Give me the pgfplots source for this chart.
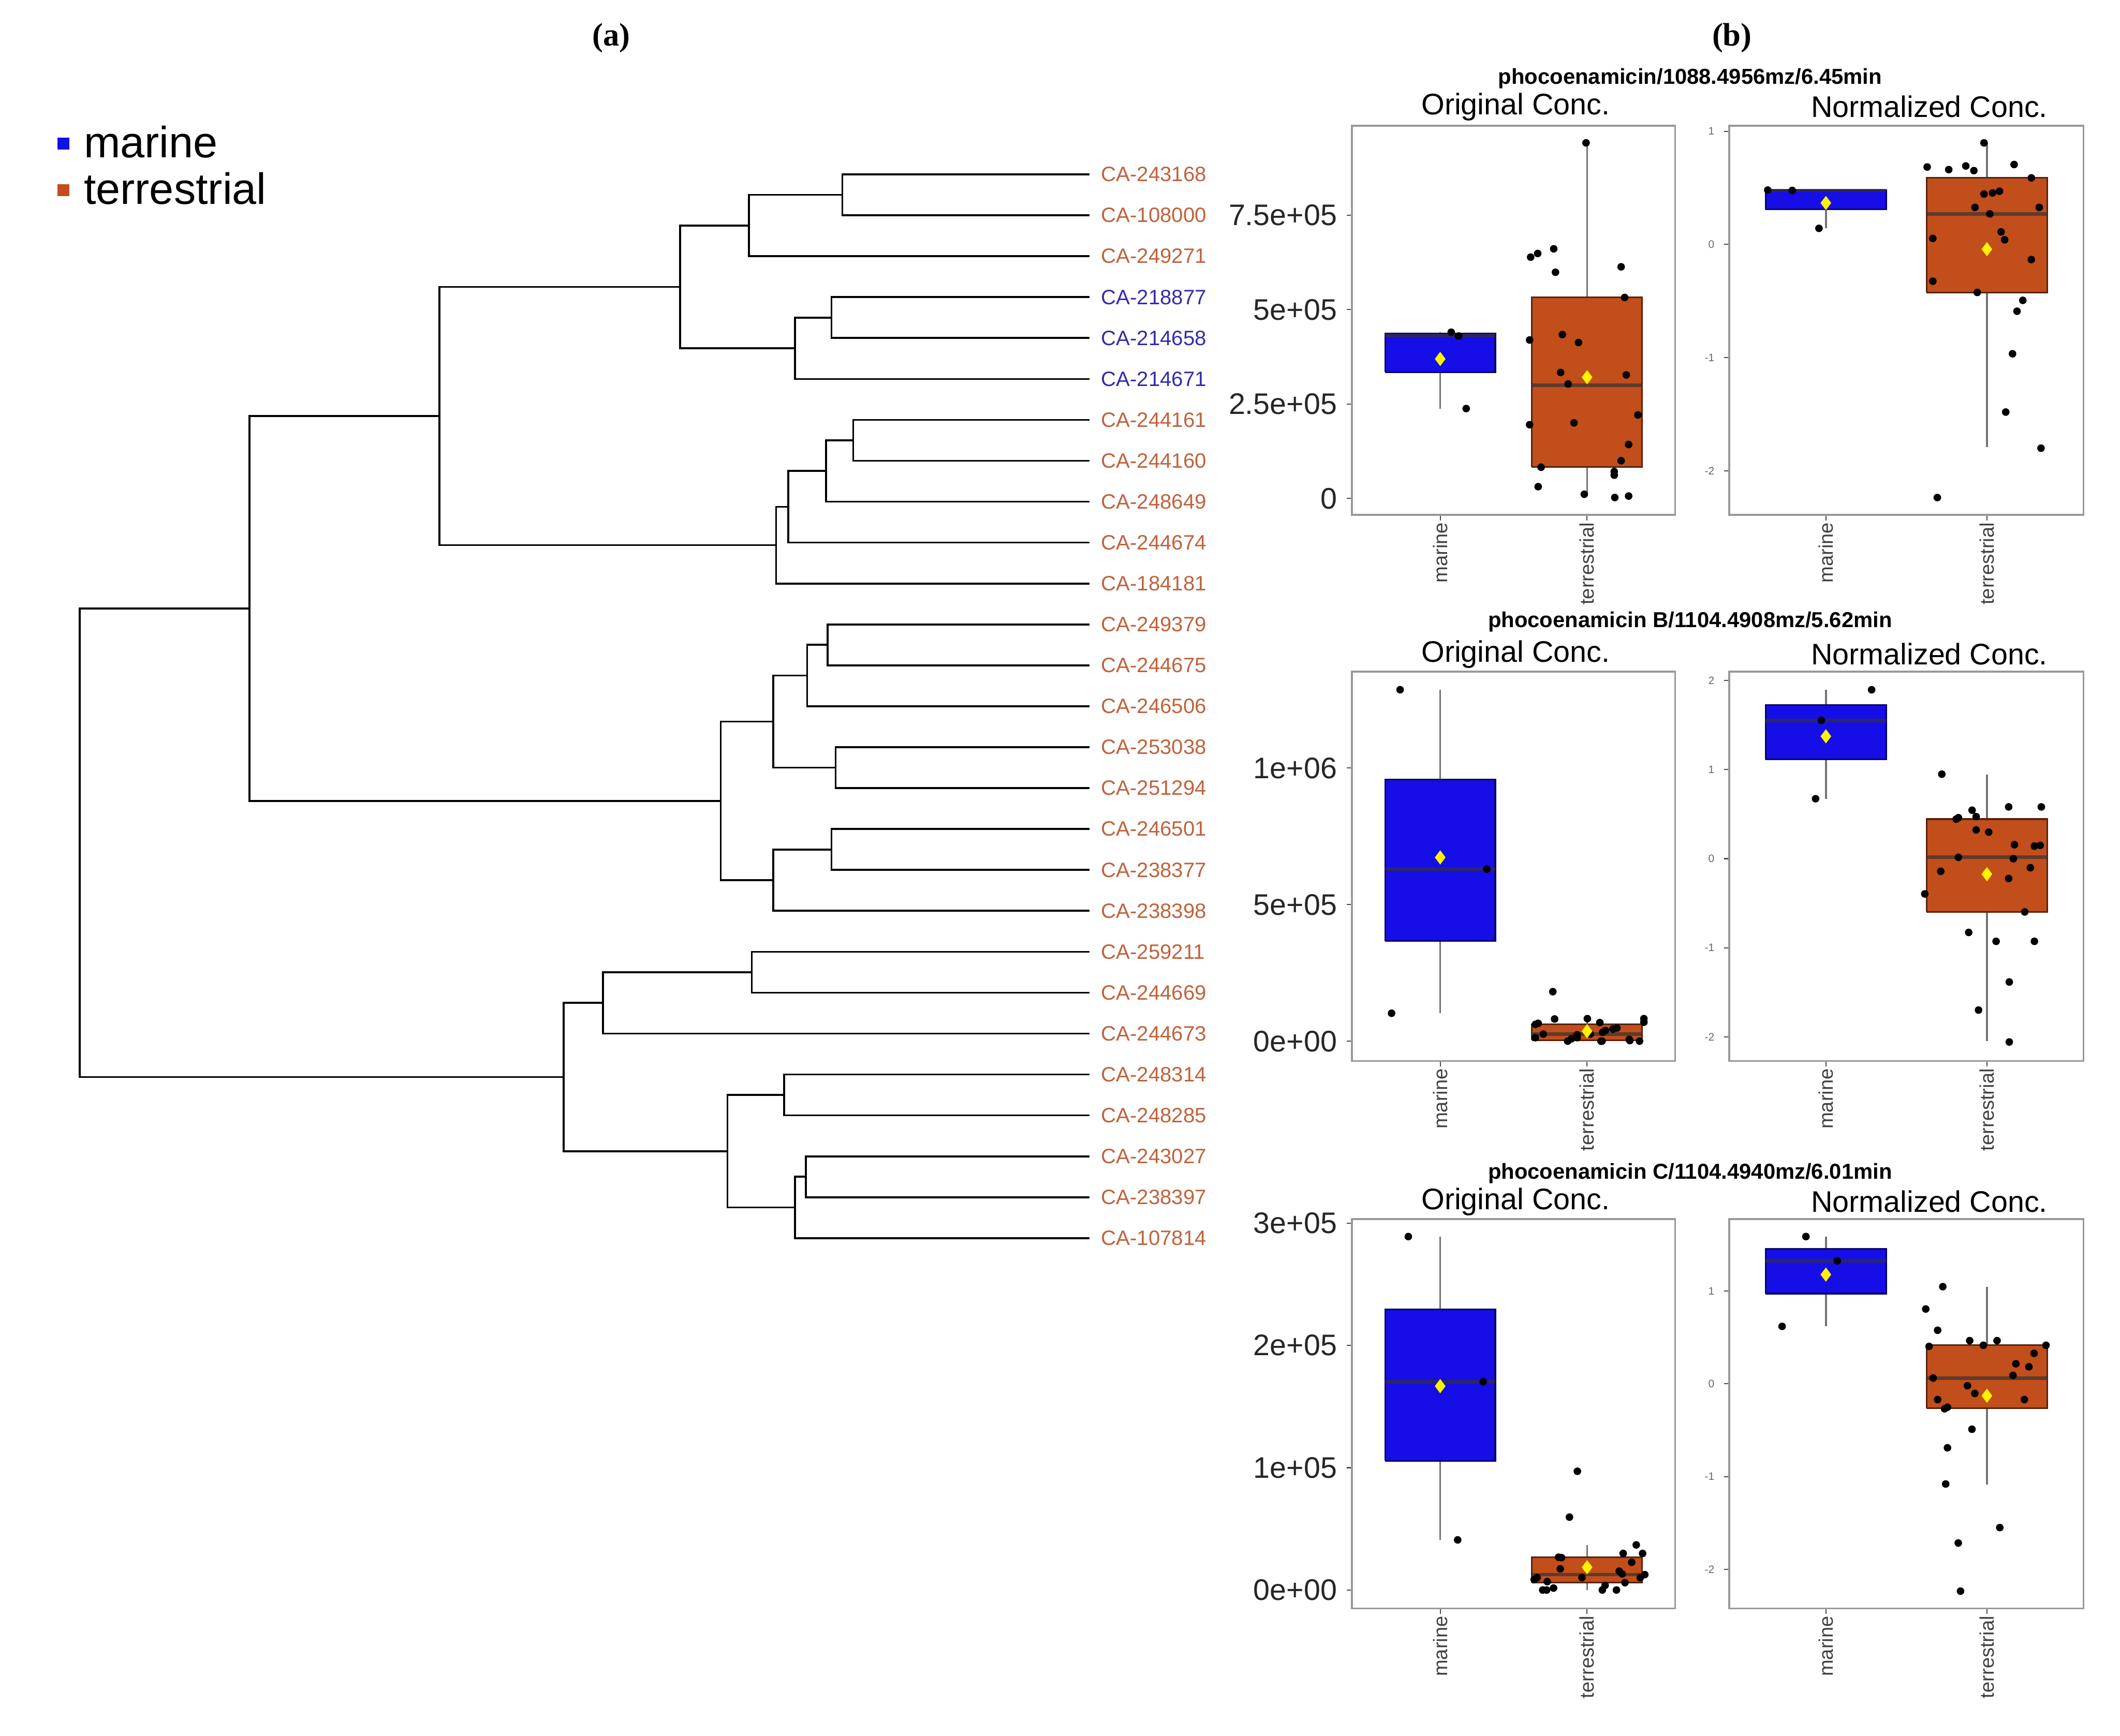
\documentclass[border=0pt]{standalone}
\usepackage{fontspec}
\setmainfont{Liberation Sans}
\newfontfamily\serifb{Liberation Serif}
\usepackage{pgfplots}
\pgfplotsset{compat=1.18}

\definecolor{mblue}{RGB}{22,14,230}
\definecolor{torange}{RGB}{194,78,28}
\definecolor{tlab}{RGB}{193,98,60}
\definecolor{mlab}{RGB}{50,45,170}
\newcommand{\fs}[1]{\fontsize{#1}{#1}\selectfont}

\pgfplotsset{
 panel/.style={scale only axis, height=144pt, xmin=0.4, xmax=2.6,
   xtick={1,2}, xticklabels={marine,terrestrial},
   x tick label style={rotate=90, anchor=east, font=\fs{7.3}, text=black!75, inner sep=0.6pt},
   tick align=outside, xtick pos=left, ytick pos=left,
   major tick length=2pt, tick style={black!70, line width=0.4pt},
   axis line style={black!40, line width=0.7pt},
   /pgf/number format/assume math mode=true,
 },
 orig/.style={panel, width=119.5pt, y tick label style={font=\fs{11}, text=black!85}},
 norm/.style={panel, width=131pt, y tick label style={font=\fs{4}, text=black!60}},
 pts/.style={only marks, mark=*, mark size=1.2pt, black},
 meanm/.style={only marks, mark=diamond*, mark size=2.3pt, color=yellow},
 whisk/.style={black!55, line width=0.7pt, solid, no markers},
 medl/.style={black!80, draw opacity=0.7, line width=1.3pt, solid, no markers},
 dend/.style={black, line width=0.7pt, solid, no markers},
}
\newcommand{\br}[5]{\addplot[dend] coordinates {(#1,#2) (#3,#2) (#3,#4) (#5,#4)};}
% box: left right center lw q1 med q3 uw fill
\newcommand{\bx}[9]{%
 \addplot[whisk] coordinates {(#3,#4) (#3,#5)};
 \addplot[whisk] coordinates {(#3,#7) (#3,#8)};
 \addplot[fill=#9, draw=#9!45!black, line width=0.6pt, solid, no markers]
   coordinates {(#1,#5) (#2,#5) (#2,#7) (#1,#7) (#1,#5)};
 \addplot[medl] coordinates {(#1,#6) (#2,#6)};
}
\newcommand{\mbx}[5]{\bx{0.625}{1.375}{1}{#1}{#2}{#3}{#4}{#5}{mblue}}
\newcommand{\tbx}[5]{\bx{1.625}{2.375}{2}{#1}{#2}{#3}{#4}{#5}{torange}}

\begin{document}
\begin{tikzpicture}
\path (0pt,0pt) rectangle (784pt,642pt);
% ---------------- dendrogram ----------------
\begin{axis}[at={(0pt,0pt)}, anchor=south west, scale only axis, width=784pt, height=642pt,
  xmin=0, xmax=1568, ymin=-3.262, ymax=39.157, y dir=reverse, hide axis, clip=false,
  legend style={at={(0.0268,0.931)}, anchor=north west, draw=none, fill=none,
     font=\fs{16.2}, row sep=0pt, inner sep=0pt, /tikz/column sep=3.4pt}, legend cell align=left]
\addlegendimage{legend image code/.code={\fill[mblue] (0pt,-2pt) rectangle (4pt,2pt);}}
\addlegendentry{marine}
\addlegendimage{legend image code/.code={\fill[torange] (0pt,-2pt) rectangle (4pt,2pt);}}
\addlegendentry{terrestrial}
\br{806}{1}{623}{2}{806}
\br{623}{1.5}{554}{3}{806}
\br{806}{4}{615}{5}{806}
\br{615}{4.5}{588}{6}{806}
\br{554}{2.25}{503}{5.25}{588}
\br{806}{7}{631}{8}{806}
\br{631}{7.5}{611}{9}{806}
\br{611}{8.25}{583}{10}{806}
\br{583}{9.125}{574}{11}{806}
\br{503}{3.75}{325}{10.0625}{574}
\br{806}{12}{612}{13}{806}
\br{612}{12.5}{597}{14}{806}
\br{806}{15}{618}{16}{806}
\br{597}{13.25}{572}{15.5}{618}
\br{806}{17}{615}{18}{806}
\br{615}{17.5}{572}{19}{806}
\br{572}{14.375}{533}{18.25}{572}
\br{325}{6.90625}{184.5}{16.3125}{533}
\br{806}{20}{556}{21}{806}
\br{556}{20.5}{446}{22}{806}
\br{806}{23}{580}{24}{806}
\br{806}{25}{596}{26}{806}
\br{596}{25.5}{588}{27}{806}
\br{580}{23.5}{538}{26.25}{588}
\br{446}{21.25}{417}{24.875}{538}
\br{184.5}{11.609375}{59}{23.0625}{417}
\begin{scope}[every node/.style={anchor=west, font=\fs{7.7}, inner sep=0pt}]
\node[text=tlab] at (axis cs:814,1) {CA-243168};
\node[text=tlab] at (axis cs:814,2) {CA-108000};
\node[text=tlab] at (axis cs:814,3) {CA-249271};
\node[text=mlab] at (axis cs:814,4) {CA-218877};
\node[text=mlab] at (axis cs:814,5) {CA-214658};
\node[text=mlab] at (axis cs:814,6) {CA-214671};
\node[text=tlab] at (axis cs:814,7) {CA-244161};
\node[text=tlab] at (axis cs:814,8) {CA-244160};
\node[text=tlab] at (axis cs:814,9) {CA-248649};
\node[text=tlab] at (axis cs:814,10) {CA-244674};
\node[text=tlab] at (axis cs:814,11) {CA-184181};
\node[text=tlab] at (axis cs:814,12) {CA-249379};
\node[text=tlab] at (axis cs:814,13) {CA-244675};
\node[text=tlab] at (axis cs:814,14) {CA-246506};
\node[text=tlab] at (axis cs:814,15) {CA-253038};
\node[text=tlab] at (axis cs:814,16) {CA-251294};
\node[text=tlab] at (axis cs:814,17) {CA-246501};
\node[text=tlab] at (axis cs:814,18) {CA-238377};
\node[text=tlab] at (axis cs:814,19) {CA-238398};
\node[text=tlab] at (axis cs:814,20) {CA-259211};
\node[text=tlab] at (axis cs:814,21) {CA-244669};
\node[text=tlab] at (axis cs:814,22) {CA-244673};
\node[text=tlab] at (axis cs:814,23) {CA-248314};
\node[text=tlab] at (axis cs:814,24) {CA-248285};
\node[text=tlab] at (axis cs:814,25) {CA-243027};
\node[text=tlab] at (axis cs:814,26) {CA-238397};
\node[text=tlab] at (axis cs:814,27) {CA-107814};
\end{scope}
\end{axis}

% ---------------- text ----------------
\node[font=\serifb\bfseries\fs{12}] at (226pt,628pt) {(a)};
\node[font=\serifb\bfseries\fs{12}] at (640.5pt,628pt) {(b)};
\begin{scope}[every node/.style={inner sep=0pt}]
\node[font=\bfseries\fs{8}] at (625pt,613pt) {phocoenamicin/1088.4956mz/6.45min};
\node[font=\bfseries\fs{8}] at (625pt,412pt) {phocoenamicin B/1104.4908mz/5.62min};
\node[font=\bfseries\fs{8}] at (625pt,208pt) {phocoenamicin C/1104.4940mz/6.01min};
\node[font=\fs{11}] at (560.5pt,602.5pt) {Original Conc.};
\node[font=\fs{11}] at (713.5pt,602.5pt) {Normalized Conc.};
\node[font=\fs{11}] at (560.5pt,400pt) {Original Conc.};
\node[font=\fs{11}] at (713.5pt,400pt) {Normalized Conc.};
\node[font=\fs{11}] at (560.5pt,197.5pt) {Original Conc.};
\node[font=\fs{11}] at (713.5pt,197.5pt) {Normalized Conc.};
\end{scope}

% ---------------- row 1 ----------------
\begin{axis}[orig, at={(500pt,451.5pt)}, anchor=south west, ymin=-43.6, ymax=986.7,
  ytick={0,250,500,750}, yticklabels={0,2.5e+05,5e+05,7.5e+05}]
\mbx{238}{334.5}{431}{436.5}{440}
\tbx{9}{83}{300}{532}{941}
\addplot[pts] coordinates {(1.075,440) (1.126,430) (1.177,238)};
\addplot[pts] coordinates {(1.993,941.2) (1.616,638.8) (1.664,648.4) (1.773,660.8) (1.785,598.8)
 (2.232,613.1) (2.256,532.0) (1.832,433.8) (1.942,412.8) (1.609,419.5) (1.820,333.6) (1.871,303.1)
 (2.267,327.0) (1.911,200.1) (1.609,195.3) (2.346,221.1) (2.283,142.9) (2.232,99.9) (1.687,82.8)
 (2.185,71.3) (2.185,61.8) (1.667,31.3) (1.981,11.2) (2.189,2.6) (2.283,6.5)};
\addplot[meanm] coordinates {(1,369.3) (2,321)};
\end{axis}
\begin{axis}[norm, at={(639.5pt,451.5pt)}, anchor=south west, ymin=-2.39, ymax=1.049,
  ytick={-2,-1,0,1}, yticklabels={-2,-1,0,1}]
\mbx{0.142}{0.31}{0.477}{0.479}{0.48}
\tbx{-1.79}{-0.424}{0.27}{0.588}{0.897}
\addplot[pts] coordinates {(0.639,0.480) (0.791,0.477) (0.957,0.142)};
\addplot[pts] coordinates {(1.982,0.897) (1.629,0.684) (1.763,0.661) (1.869,0.693) (1.919,0.652)
 (2.169,0.706) (2.276,0.588) (1.982,0.445) (2.035,0.455) (2.078,0.470) (1.926,0.327) (2.018,0.270)
 (2.325,0.327) (2.088,0.111) (2.110,0.041) (1.664,0.053) (2.276,-0.134) (1.664,-0.325) (1.940,-0.424)
 (2.223,-0.494) (2.187,-0.590) (2.159,-0.966) (2.117,-1.481) (2.336,-1.800) (1.692,-2.236)};
\addplot[meanm] coordinates {(1,0.366) (2,-0.042)};
\end{axis}

% ---------------- row 2 ----------------
\begin{axis}[orig, at={(500pt,249.5pt)}, anchor=south west, ymin=-72.4, ymax=1352.6,
  ytick={0,500,1000}, yticklabels={0e+00,5e+05,1e+06}]
\mbx{102.6}{366.5}{630.3}{958.6}{1286.9}
\tbx{0.3}{4}{26}{63}{83}
\addplot[pts] coordinates {(0.727,1286.9) (1.317,630.3) (0.669,102.6)};
\addplot[pts] coordinates {(1.767,181.6) (1.667,65.8) (1.779,81.6) (2.002,82.9) (2.087,68.4)
 (2.203,48.7) (2.176,44.7) (2.387,82.9) (2.387,69.7) (2.106,32.9) (1.702,26.3) (1.933,13.2)
 (1.648,13.2) (1.894,9.2) (2.287,6.6) (1.868,0.5) (2.102,0.5) (2.095,0.5) (2.357,0.5) (2.291,2.6)
 (2.022,26.3) (1.933,23.7) (2.125,39.5) (1.648,61.8)};
\addplot[meanm] coordinates {(1,673) (2,37)};
\end{axis}
\begin{axis}[norm, at={(639.5pt,249.5pt)}, anchor=south west, ymin=-2.27, ymax=2.097,
  ytick={-2,-1,0,1,2}, yticklabels={-2,-1,0,1,2}]
\mbx{0.673}{1.113}{1.552}{1.724}{1.895}
\tbx{-2.048}{-0.597}{0.016}{0.444}{0.944}
\addplot[pts] coordinates {(1.284,1.895) (0.972,1.552) (0.936,0.673)};
\addplot[pts] coordinates {(1.720,0.948) (2.135,0.581) (2.338,0.581) (1.908,0.544) (1.823,0.460)
 (1.933,0.472) (1.809,0.444) (1.933,0.323) (2.011,0.298) (2.171,0.157) (2.295,0.141) (2.331,0.149)
 (1.823,0.016) (2.164,0.000) (1.713,-0.141) (2.270,-0.101) (2.135,-0.222) (1.614,-0.395) (2.235,-0.597)
 (1.887,-0.827) (2.057,-0.927) (2.295,-0.927) (2.139,-1.383) (1.948,-1.698) (2.139,-2.056)};
\addplot[meanm] coordinates {(1,1.373) (2,-0.173)};
\end{axis}

% ---------------- row 3 ----------------
\begin{axis}[orig, at={(500pt,47pt)}, anchor=south west, ymin=-15.1, ymax=303.2,
  ytick={0,100,200,300}, yticklabels={0e+00,1e+05,2e+05,3e+05}]
\mbx{41}{105.6}{170.2}{229.6}{289}
\tbx{0}{6}{12.6}{26.8}{36.9}
\addplot[pts] coordinates {(0.783,289.0) (1.293,170.2) (1.119,41.0)};
\addplot[pts] coordinates {(1.934,97.1) (1.880,59.6) (2.335,36.9) (2.378,29.9) (2.246,29.9)
 (1.806,26.8) (1.826,26.5) (2.304,22.7) (1.818,17.3) (2.219,15.4) (2.393,12.6) (1.965,10.1)
 (1.640,8.5) (1.729,6.9) (2.258,6.0) (2.123,3.8) (1.772,1.6) (1.698,0.0) (1.725,0.0) (2.104,0.0)
 (2.200,0.0) (2.239,13.2) (1.660,10.1) (2.362,10.1)};
\addplot[meanm] coordinates {(1,166.7) (2,18.6)};
\end{axis}
\begin{axis}[norm, at={(639.5pt,47pt)}, anchor=south west, ymin=-2.422, ymax=1.774,
  ytick={-2,-1,0,1}, yticklabels={-2,-1,0,1}]
\mbx{0.619}{0.972}{1.325}{1.456}{1.587}
\tbx{-1.084}{-0.262}{0.062}{0.415}{1.047}
\addplot[pts] coordinates {(0.876,1.587) (1.071,1.325) (0.728,0.619)};
\addplot[pts] coordinates {(1.726,1.047) (1.620,0.806) (1.694,0.577) (1.893,0.465) (2.063,0.465)
 (1.978,0.415) (2.367,0.415) (1.641,0.403) (2.293,0.328) (2.180,0.216) (2.261,0.183) (2.162,0.091)
 (1.666,0.062) (1.879,-0.021) (1.925,-0.104) (1.694,-0.170) (2.233,-0.170) (1.755,-0.253) (1.737,-0.270)
 (1.907,-0.490) (1.755,-0.690) (1.744,-1.080) (2.080,-1.550) (1.822,-1.716) (1.836,-2.235)};
\addplot[meanm] coordinates {(1,1.177) (2,-0.129)};
\end{axis}
\end{tikzpicture}
\end{document}
